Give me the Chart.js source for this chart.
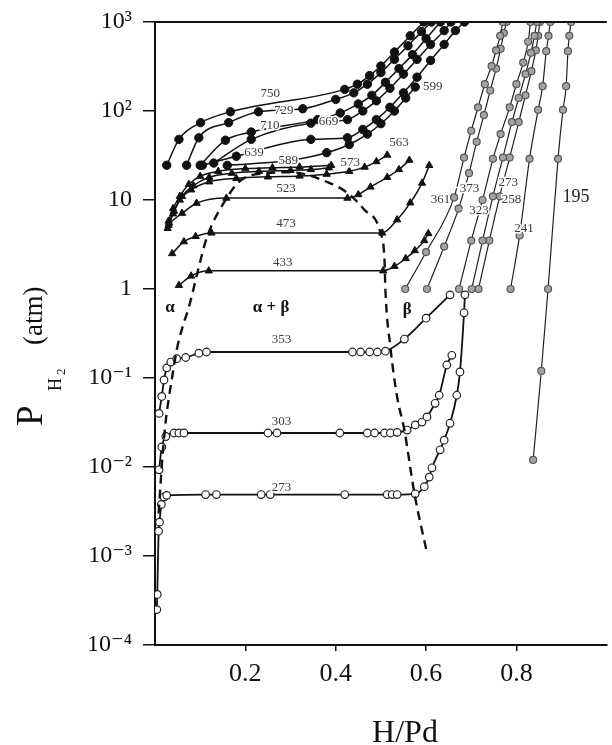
<!DOCTYPE html>
<html>
<head>
<meta charset="utf-8">
<title>Pd-H isotherms</title>
<script src="https://cdn.jsdelivr.net/npm/chart.js@4.4.0/dist/chart.umd.min.js"></script>
<style>
  html, body { margin: 0; padding: 0; background: #fff; }
  canvas { display: block; }
</style>
</head>
<body>
<canvas id="isothermChart" width="612" height="745"></canvas>
<script>
// axis ticks
const xTickValues = [0.2, 0.4, 0.6, 0.8];
const xTickLabels = ["0.2", "0.4", "0.6", "0.8"];
const yTickValues = [1e-4, 1e-3, 1e-2, 1e-1, 1, 10, 100, 1000];
const yTickLabels = ["10⁻⁴", "10⁻³", "10⁻²", "10⁻¹", "1", "10", "10²", "10³"];

// isotherms: [H/Pd, P (atm)]
// filled circles
const iso750 = [[0.026, 24.6], [0.053, 48], [0.101, 74], [0.167, 98], [0.42, 175], [0.448, 200], [0.475, 250], [0.5, 320], [0.53, 460], [0.565, 700], [0.595, 1000]];
const iso729 = [[0.07, 24.6], [0.097, 50], [0.163, 74], [0.229, 98], [0.327, 106], [0.4, 135], [0.44, 160], [0.47, 200], [0.5, 270], [0.53, 380], [0.56, 540], [0.59, 780], [0.612, 1000]];
const iso710 = [[0.1, 24.6], [0.156, 47], [0.213, 58], [0.36, 80], [0.41, 95], [0.45, 120], [0.48, 150], [0.51, 210], [0.54, 300], [0.57, 430], [0.6, 650], [0.632, 1000]];
const iso669 = [[0.13, 26], [0.213, 48], [0.345, 73], [0.426, 80], [0.46, 100], [0.49, 130], [0.52, 180], [0.55, 260], [0.58, 380], [0.61, 560], [0.64, 800], [0.655, 1000]];
const iso639 = [[0.105, 24.6], [0.18, 31], [0.345, 48], [0.426, 50], [0.46, 62], [0.49, 80], [0.52, 110], [0.55, 160], [0.58, 240], [0.61, 370], [0.64, 560], [0.665, 800], [0.685, 1000]];
const iso599 = [[0.16, 24.5], [0.3, 28], [0.38, 34], [0.43, 42], [0.47, 55], [0.5, 72], [0.53, 100], [0.555, 140], [0.576, 186]];
// filled triangles
const iso589 = [[0.03, 5.8], [0.04, 8], [0.055, 11], [0.075, 15], [0.1, 18.5], [0.14, 21], [0.2, 22.5], [0.26, 23], [0.32, 23.5], [0.39, 24.5]];
const iso573 = [[0.03, 5.2], [0.042, 7.5], [0.06, 11], [0.085, 14.5], [0.12, 18], [0.17, 20], [0.23, 21], [0.3, 21.5], [0.345, 22], [0.385, 23]];
const iso563 = [[0.028, 4.8], [0.04, 7], [0.055, 10], [0.08, 13], [0.12, 16], [0.18, 17.5], [0.25, 18.2], [0.32, 18.6], [0.38, 19.5], [0.43, 21], [0.464, 23.4], [0.49, 27], [0.514, 32]];
const iso523 = [[0.031, 5.5], [0.06, 7.1], [0.092, 9.2], [0.158, 10.5], [0.426, 10.5], [0.45, 11.5], [0.477, 14], [0.514, 18], [0.54, 22], [0.563, 28]];
const iso473 = [[0.038, 2.5], [0.064, 3.4], [0.09, 3.9], [0.125, 4.26], [0.503, 4.26], [0.536, 6], [0.565, 9.3], [0.591, 15.5], [0.607, 24.5]];
const iso433 = [[0.053, 1.1], [0.08, 1.4], [0.119, 1.6], [0.505, 1.6], [0.53, 1.8], [0.555, 2.2], [0.575, 2.7], [0.596, 3.5], [0.605, 4.2]];
// open circles
const iso353 = [[0.009, 0.04], [0.015, 0.062], [0.02, 0.095], [0.026, 0.13], [0.035, 0.151], [0.048, 0.165], [0.068, 0.17], [0.097, 0.19], [0.114, 0.196], [0.437, 0.196], [0.455, 0.196], [0.475, 0.196], [0.492, 0.196], [0.51, 0.2], [0.552, 0.274], [0.6, 0.47], [0.653, 0.86]];
const iso303 = [[0.009, 0.0093], [0.015, 0.0168], [0.024, 0.022], [0.042, 0.0241], [0.053, 0.0241], [0.064, 0.0241], [0.25, 0.0241], [0.27, 0.0241], [0.409, 0.0241], [0.47, 0.0241], [0.486, 0.0241], [0.508, 0.0241], [0.521, 0.0241], [0.536, 0.0245], [0.558, 0.026], [0.576, 0.0297], [0.591, 0.032], [0.602, 0.0365], [0.62, 0.052], [0.629, 0.064], [0.646, 0.14], [0.657, 0.18]];
const iso273 = [[0.004, 0.00025], [0.005, 0.00037], [0.008, 0.0019], [0.01, 0.0024], [0.014, 0.0038], [0.02, 0.0046], [0.026, 0.0048], [0.112, 0.0049], [0.136, 0.0049], [0.235, 0.0049], [0.255, 0.0049], [0.42, 0.0049], [0.514, 0.0049], [0.525, 0.0049], [0.536, 0.0049], [0.576, 0.005], [0.596, 0.006], [0.607, 0.0077], [0.613, 0.0098], [0.631, 0.0156], [0.64, 0.02], [0.653, 0.031], [0.668, 0.064], [0.675, 0.117], [0.684, 0.54], [0.686, 0.86]];
// hatched circles (steep branches)
const br361 = [[0.554, 1.0], [0.6, 2.6], [0.662, 10.7], [0.684, 30], [0.7, 60], [0.715, 110], [0.73, 200], [0.745, 320], [0.755, 480], [0.764, 700], [0.77, 1000]];
const br373 = [[0.602, 1.0], [0.64, 3.0], [0.672, 8], [0.695, 20], [0.712, 45], [0.728, 90], [0.742, 170], [0.755, 300], [0.765, 500], [0.772, 750], [0.778, 1000]];
const br323 = [[0.673, 1.0], [0.7, 3.5], [0.725, 10], [0.748, 29], [0.765, 55], [0.785, 110], [0.8, 200], [0.815, 350], [0.826, 600], [0.831, 1000]];
const br273 = [[0.701, 1.0], [0.725, 3.5], [0.748, 11], [0.77, 30], [0.79, 75], [0.805, 140], [0.82, 260], [0.832, 450], [0.84, 700], [0.845, 1000]];
const br258 = [[0.716, 1.0], [0.74, 3.5], [0.763, 11], [0.785, 30], [0.805, 75], [0.82, 150], [0.833, 280], [0.843, 480], [0.848, 700], [0.852, 1000]];
const br241 = [[0.787, 1.0], [0.807, 4.0], [0.829, 29], [0.848, 103], [0.858, 190], [0.866, 470], [0.871, 700], [0.875, 1000]];
const br195 = [[0.837, 0.012], [0.855, 0.12], [0.87, 1.0], [0.892, 29], [0.903, 103], [0.91, 190], [0.914, 470], [0.917, 700], [0.921, 1000]];
// two-phase boundary (dashed)
const phaseBoundary = [[0.008, 0.003], [0.016, 0.012], [0.024, 0.0337], [0.031, 0.0612], [0.037, 0.095], [0.048, 0.206], [0.059, 0.346], [0.075, 0.628], [0.09, 1.26], [0.097, 1.77], [0.115, 3.8], [0.156, 10], [0.191, 16.8], [0.25, 20], [0.3, 20.5], [0.387, 15.5], [0.426, 12], [0.464, 7.7], [0.499, 4.26], [0.508, 2.1], [0.51, 0.97], [0.521, 0.223], [0.536, 0.061], [0.552, 0.026], [0.574, 0.0051], [0.602, 0.00108]];

// temperature labels: [text, H/Pd, P]
const tempLabels = [
  ["750", 0.255, 158], ["729", 0.285, 102], ["710", 0.254, 69], ["669", 0.384, 76],
  ["639", 0.219, 34], ["599", 0.615, 186], ["589", 0.295, 28], ["573", 0.432, 26],
  ["563", 0.54, 44], ["523", 0.29, 13.6], ["473", 0.29, 5.5], ["433", 0.283, 2.0],
  ["353", 0.28, 0.27], ["303", 0.28, 0.032], ["273", 0.28, 0.0059],
  ["361", 0.632, 10], ["373", 0.696, 13.6], ["323", 0.717, 7.7], ["273", 0.782, 15.5],
  ["258", 0.789, 10], ["241", 0.817, 4.8]
];
const bigLabels = [["195", 0.932, 10.7]];
const phaseLabels = [["α", 0.033, 0.62], ["α + β", 0.257, 0.62], ["β", 0.558, 0.58]];

const SERIF = '"Liberation Serif", "DejaVu Serif", serif';

const styles = {
  filled: { pointStyle: "circle", pointRadius: 4.2, pointBackgroundColor: "#111", pointBorderColor: "#111", pointBorderWidth: 1, borderColor: "#111", borderWidth: 1.5 },
  triangle: { pointStyle: "triangle", pointRadius: 4.2, pointBackgroundColor: "#111", pointBorderColor: "#111", pointBorderWidth: 1, borderColor: "#111", borderWidth: 1.5 },
  open: { pointStyle: "circle", pointRadius: 3.8, pointBackgroundColor: "#fff", pointBorderColor: "#222", pointBorderWidth: 1.2, borderColor: "#111", borderWidth: 1.8 },
  gray: { pointStyle: "circle", pointRadius: 3.5, pointBackgroundColor: "#a3a3a3", pointBorderColor: "#555", pointBorderWidth: 1.2, borderColor: "#222", borderWidth: 1.2 },
  dashed: { pointRadius: 0, borderColor: "#111", borderWidth: 2.4, borderDash: [9, 6] },
};

function series(label, pairs, kind) {
  return Object.assign(
    {
      label,
      data: pairs.map(([x, y]) => ({ x, y })),
      fill: false,
      cubicInterpolationMode: "monotone",
    },
    styles[kind]
  );
}

const datasets = [
  series("boundary", phaseBoundary, "dashed"),
  series("750", iso750, "filled"),
  series("729", iso729, "filled"),
  series("710", iso710, "filled"),
  series("669", iso669, "filled"),
  series("639", iso639, "filled"),
  series("599", iso599, "filled"),
  series("589", iso589, "triangle"),
  series("573", iso573, "triangle"),
  series("563", iso563, "triangle"),
  series("523", iso523, "triangle"),
  series("473", iso473, "triangle"),
  series("433", iso433, "triangle"),
  series("353", iso353, "open"),
  series("303", iso303, "open"),
  series("273", iso273, "open"),
  series("361", br361, "gray"),
  series("373", br373, "gray"),
  series("323", br323, "gray"),
  series("273b", br273, "gray"),
  series("258", br258, "gray"),
  series("241", br241, "gray"),
  series("195", br195, "gray"),
];

function drawLabel(ctx, text, px, py, font) {
  ctx.font = font;
  ctx.textAlign = "center";
  ctx.textBaseline = "middle";
  ctx.lineWidth = 3;
  ctx.strokeStyle = "#fff";
  ctx.strokeText(text, px, py);
  ctx.fillText(text, px, py);
}

// text running bottom-to-top, starting at (px, py) on its baseline
function rotatedText(ctx, text, px, py, font) {
  ctx.save();
  ctx.translate(px, py);
  ctx.rotate(-Math.PI / 2);
  ctx.font = font;
  ctx.textAlign = "left";
  ctx.textBaseline = "alphabetic";
  ctx.fillText(text, 0, 0);
  ctx.restore();
}

const decorations = {
  id: "decorations",
  afterDatasetsDraw(chart) {
    const { ctx, chartArea, scales } = chart;
    ctx.save();
    // top frame line
    ctx.strokeStyle = "#111";
    ctx.lineWidth = 2;
    ctx.beginPath();
    ctx.moveTo(chartArea.left, chartArea.top);
    ctx.lineTo(chartArea.right, chartArea.top);
    ctx.stroke();

    ctx.fillStyle = "#3a3a3a";
    tempLabels.forEach(([t, x, p]) => {
      drawLabel(ctx, t, scales.x.getPixelForValue(x), scales.y.getPixelForValue(p), "13px " + SERIF);
    });
    ctx.fillStyle = "#222";
    bigLabels.forEach(([t, x, p]) => {
      drawLabel(ctx, t, scales.x.getPixelForValue(x), scales.y.getPixelForValue(p), "18px " + SERIF);
    });
    ctx.fillStyle = "#111";
    phaseLabels.forEach(([t, x, p]) => {
      drawLabel(ctx, t, scales.x.getPixelForValue(x), scales.y.getPixelForValue(p), "bold 17px " + SERIF);
    });
    ctx.restore();
  },
  afterDraw(chart) {
    const { ctx } = chart;
    ctx.save();
    ctx.fillStyle = "#111";
    // x title
    ctx.font = "32px " + SERIF;
    ctx.textAlign = "center";
    ctx.textBaseline = "alphabetic";
    ctx.fillText("H/Pd", 405, 742);
    // y title: P with subscript H2, then (atm)
    rotatedText(ctx, "P", 42, 426, "37px " + SERIF);
    rotatedText(ctx, "H", 61, 391, "18px " + SERIF);
    rotatedText(ctx, "2", 65, 375, "13px " + SERIF);
    rotatedText(ctx, "(atm)", 42, 345, "27px " + SERIF);
    ctx.restore();
  },
};

const canvas = document.getElementById("isothermChart");
new Chart(canvas, {
  type: "line",
  data: { datasets },
  plugins: [decorations],
  options: {
    responsive: false,
    animation: false,
    layout: { padding: { top: 22, right: 0, left: 0, bottom: 0 } },
    plugins: {
      legend: { display: false },
      tooltip: { enabled: false },
    },
    scales: {
      x: {
        type: "linear",
        min: 0,
        max: 1,
        afterBuildTicks(axis) {
          axis.ticks = xTickValues.map((v) => ({ value: v }));
        },
        afterFit(axis) {
          axis.height = 100;
          axis.paddingLeft = 0;
          axis.paddingRight = 0;
        },
        ticks: {
          autoSkip: false,
          maxRotation: 0,
          padding: 8,
          color: "#111",
          font: { family: SERIF, size: 26 },
          callback: (value, index) => xTickLabels[index],
        },
        grid: { drawOnChartArea: false, drawTicks: true, tickLength: 6, color: "#111", lineWidth: 1.5 },
        border: { display: true, color: "#111", width: 2 },
      },
      y: {
        type: "logarithmic",
        min: 1e-4,
        max: 1000,
        afterBuildTicks(axis) {
          axis.ticks = yTickValues.map((v) => ({ value: v }));
        },
        afterFit(axis) {
          axis.width = 155;
          axis.paddingTop = 0;
          axis.paddingBottom = 0;
        },
        ticks: {
          autoSkip: false,
          padding: 11,
          color: "#111",
          font: { family: SERIF, size: 24 },
          callback: (value, index) => yTickLabels[index],
        },
        grid: { drawOnChartArea: false, drawTicks: true, tickLength: 12, color: "#111", lineWidth: 1.5 },
        border: { display: true, color: "#111", width: 2 },
      },
    },
  },
});
</script>
</body>
</html>
